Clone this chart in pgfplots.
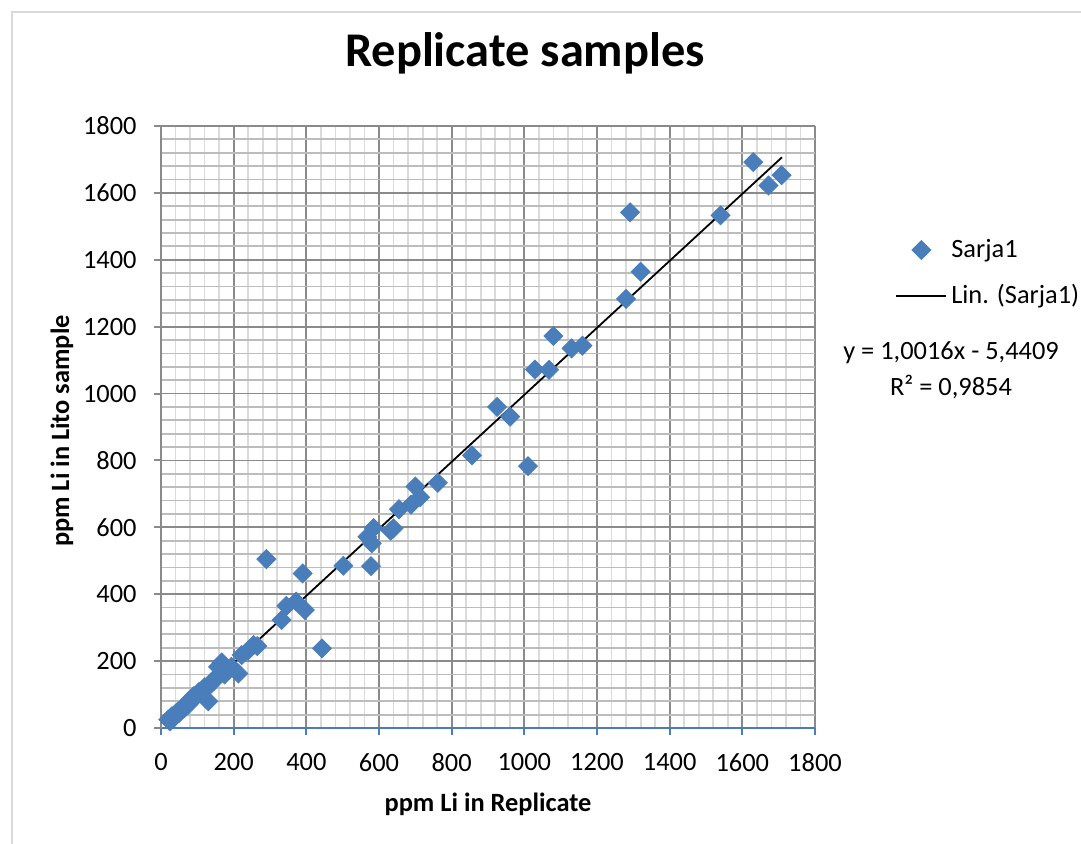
\documentclass[border=0pt]{standalone}
\usepackage{pgfplots}
\pgfplotsset{compat=1.18}
\usepackage{fontspec}
\setmainfont{Carlito}
\definecolor{mkblue}{RGB}{74,126,187}
\definecolor{majgrid}{RGB}{138,138,138}
\definecolor{minygrid}{RGB}{188,188,188}
\definecolor{minxgrid}{RGB}{218,218,218}
\definecolor{frame}{RGB}{217,217,217}
\newcommand{\lblfont}{\fontsize{13.2}{15.5}\selectfont}
\pgfplotsset{
  legmark/.style={legend image code/.code={\draw[mark repeat=2,mark phase=2,##1] plot coordinates {(0pt,0pt)(12.5pt,0pt)(25pt,0pt)};}},
  legline/.style={legend image code/.code={\draw[##1] (0pt,0pt) -- (25pt,0pt);}},
}
\pgfplotstableread{
x y
20 25
25 20
30 35
35 30
40 42
45 48
50 45
55 55
60 62
65 60
70 72
75 70
80 85
85 82
90 95
100 98
105 108
110 105
120 122
125 118
130 80
135 132
145 140
150 150
157 183
167 196
175 160
194 183
213 163
222 218
240 232
255 248
265 245
290 505
332 323
345 365
372 378
390 462
396 353
443 238
502 485
578 484
580 552
568 572
585 598
640 597
632 590
655 654
688 668
700 722
713 690
762 733
856 815
925 960
961 931
1010 783
1029 1072
1068 1071
1080 1172
1130 1135
1160 1143
1280 1283
1291 1542
1320 1364
1540 1533
1630 1692
1672 1622
1708 1653
}\datatable
\begin{document}
\begin{tikzpicture}
\useasboundingbox (-80.5pt,-58pt) rectangle (460pt,364pt);
\draw[frame, line width=1pt] (-74.5pt,-80pt) rectangle (480pt,358pt);
\begin{axis}[
  at={(0,0)}, anchor=south west,
  scale only axis, width=327pt, height=301pt,
  xmin=0, xmax=1800, ymin=0, ymax=1800,
  xtick={0,200,...,1800}, ytick={0,200,...,1800},
  minor tick num=4,
  grid=both,
  major grid style={majgrid, line width=0.9pt},
  minor x grid style={minxgrid, line width=0.9pt},
  minor y grid style={minygrid, line width=0.9pt},
  axis x line*=bottom, axis y line*=left,
  x axis line style={mkblue, line width=1pt, -},
  y axis line style={majgrid, line width=1pt, -},
  tick align=outside,
  major tick length=3.5pt, minor tick length=0pt,
  xtick style={mkblue, line width=1pt},
  ytick style={majgrid, line width=1pt},
  /pgf/number format/assume math mode=true,
  /pgf/number format/1000 sep={},
  ticklabel style={font=\lblfont, inner sep=0pt},
  xticklabel style={yshift=-9pt},
  yticklabel style={xshift=-8.5pt},
  title={Replicate samples},
  title style={font=\fontsize{24.2}{28}\selectfont\bfseries, at={(axis description cs:0.5566,1.0797)}, anchor=base},
  xlabel={ppm Li in Replicate},
  xlabel style={font=\lblfont\bfseries, at={(axis description cs:0.5,-0.1395)}, anchor=base},
  ylabel={ppm Li in Lito sample},
  ylabel style={font=\lblfont\bfseries, at={(axis description cs:-0.1514,0.4934)}, anchor=center},
  clip=false,
  legend cell align=left,
  legend style={draw=none, fill=none, inner sep=0pt,
    at={(axis description cs:1.1225,0.7558)}, anchor=west,
    font=\lblfont, row sep=11pt, column sep=2pt,
    nodes={inner sep=0pt, text height=9.5pt, text depth=2.5pt}},
]
\addplot[only marks, mark=square*, mark size=3.35pt, mark options={rotate=45, fill=mkblue, draw=mkblue}, legmark]
  table[x=x,y=y] {\datatable};
\addlegendentry{Sarja1}
\addplot[black, line width=0.9pt, no marks, legline]
  coordinates {(19,13.59) (1709,1706.29)};
\addlegendentry{Lin. (Sarja1)}
\node[font=\lblfont, align=center, inner sep=0pt] at (axis description cs:1.208,0.5939) {y = 1,0016x - 5,4409\\[2.2pt]R² = 0,9854};
\end{axis}
\end{tikzpicture}
\end{document}
